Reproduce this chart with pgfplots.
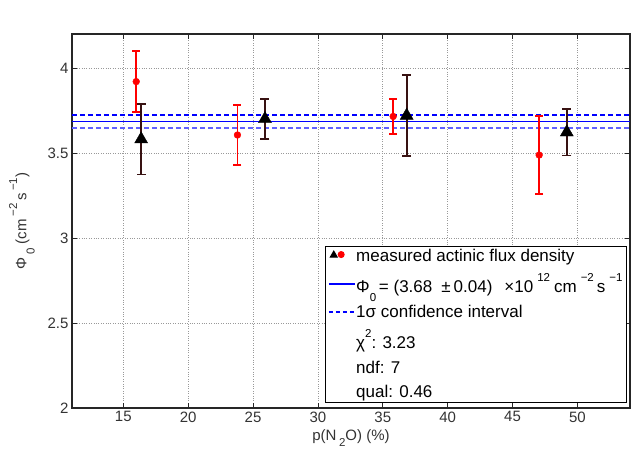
\documentclass[border=0pt]{standalone}
\usepackage{fontspec}
\setmainfont{Liberation Sans}
\usepackage{pgfplots}
\pgfplotsset{compat=1.18}
\newcommand\sups[1]{\raisebox{0.62em}{\fontsize{11.5}{11.5}\selectfont #1}}
\newcommand\subs[1]{\raisebox{-0.55em}{\fontsize{11.5}{11.5}\selectfont #1}}
\definecolor{ebblack}{rgb}{0.22,0.07,0.07}
\definecolor{fitblue}{rgb}{0,0,1}
\definecolor{lightblue}{rgb}{0.38,0.38,1}
\begin{document}
\begin{tikzpicture}
\begin{axis}[
  scale only axis, width=558pt, height=374pt,
  xmin=11.05, xmax=54.05, ymin=2, ymax=4.2,
  xtick={15,20,...,50}, ytick={2,2.5,...,4},
  grid=major, grid style={dotted, gray!80, line width=0.6pt},
  axis line style={line width=1.2pt, black!85},
  tick align=inside, major tick length=5pt, tick style={black!85, line width=0.8pt},
  every tick label/.append style={font=\fontsize{15}{18}\selectfont, text=black!80},
  /pgf/number format/assume math mode=true,
  xlabel={p(N\,\raisebox{-0.4em}{\fontsize{11.5}{11.5}\selectfont 2}O) (\%)},
  xlabel style={at={(axis description cs:0.5,-0.0856)}, anchor=base, inner sep=0, font=\fontsize{15}{18}\selectfont, text=black!80},
  ylabel style={at={(axis description cs:-0.0663,0.5)}, anchor=south, inner sep=0, font=\fontsize{15}{18}\selectfont, text=black!80},
  ylabel={Φ\,\subs{0} (cm\,\sups{−2}\,s\,\sups{−1})},
  legend style={at={(0.9946,0.0134)}, anchor=south east, draw=black, line width=1pt, fill=white,
    font=\fontsize{17}{20}\selectfont, cells={anchor=west}, inner xsep=3pt, inner ysep=2pt, row sep=9pt,
    column sep=0pt, nodes={inner sep=1pt}},
  legend image code/.code={\draw[#1] (0cm,0cm) -- (0.9cm,0cm);},
]
% fit lines
\addplot[draw=fitblue, line width=1.4pt, forget plot] coordinates {(11.05,3.684) (54.05,3.684)};
\addplot[draw=fitblue, line width=1.2pt, dash pattern=on 5pt off 3pt, forget plot] coordinates {(11.05,3.723) (54.05,3.723)};
\addplot[draw=lightblue, line width=1.6pt, dash pattern=on 5pt off 3pt, forget plot] coordinates {(11.05,3.647) (54.05,3.647)};
% red measurements
\addplot[forget plot, only marks, mark=*, mark size=3.4pt, red, mark options={fill=red},
  error bars/.cd, y dir=both, y explicit,
  error mark options={rotate=90, mark size=4pt, line width=1.6pt, red},
  error bar style={line width=1.6pt, red}]
  coordinates {
  (16.0,3.920) +- (0,0.180)
  (23.8,3.606) +- (0,0.178)
  (35.8,3.715) +- (0,0.102)
  (47.05,3.488) +- (0,0.228)
  };
% black measurements
\addplot[forget plot, only marks, mark=triangle*, mark size=7.5pt, black, mark options={fill=black},
  error bars/.cd, y dir=both, y explicit,
  error mark options={rotate=90, mark size=4.5pt, line width=1.8pt, ebblack},
  error bar style={line width=1.8pt, ebblack}]
  coordinates {
  (16.38,3.581) +- (0,0.207)
  (25.92,3.700) +- (0,0.118)
  (36.84,3.720) +- (0,0.238)
  (49.18,3.622) +- (0,0.137)
  };
\addlegendimage{legend image code/.code={
  \path plot[mark=triangle*, mark size=4pt, mark options={black, fill=black}] coordinates {(0.17cm,0.03cm)};
  \path plot[mark=*, mark size=3pt, mark options={red, fill=red}] coordinates {(0.43cm,0.05cm)};}}
\addlegendentry{measured actinic flux density}
\addlegendimage{legend image code/.code={\draw[color=fitblue, line width=1.3pt] (0cm,0cm) -- (0.9cm,0cm);}}
\addlegendentry{Φ\subs{0}\,= (3.68\hspace{9pt}±\hspace{3pt}0.04)\hspace{12pt}×10\hspace{4pt}\sups{12}\hspace{4pt}cm\hspace{4pt}\sups{−2}\hspace{3pt}s\hspace{4pt}\sups{−1}}
\addlegendimage{legend image code/.code={\draw[color=fitblue, line width=1.3pt, dash pattern=on 4pt off 3pt] (0cm,0cm) -- (0.9cm,0cm);}}
\addlegendentry{1σ confidence interval}
\addlegendimage{empty legend}
\addlegendentry{χ\sups{2}: 3.23}
\addlegendimage{empty legend}
\addlegendentry{ndf: 7}
\addlegendimage{empty legend}
\addlegendentry{qual: 0.46}
\node[anchor=base west, inner sep=0, font=\fontsize{15}{18}\selectfont, text=black!80] at (axis description cs:0,1) [yshift=4pt] {x 10\,\raisebox{10pt}{\fontsize{11}{11}\selectfont 12}};
\coordinate (bl) at (axis description cs:0,0);
\coordinate (tr) at (axis description cs:1,1);
\end{axis}
\pgfresetboundingbox
\path[use as bounding box] ([xshift=-72pt,yshift=-41pt]bl) rectangle ([xshift=2pt,yshift=34pt]tr);
\end{tikzpicture}
\end{document}
